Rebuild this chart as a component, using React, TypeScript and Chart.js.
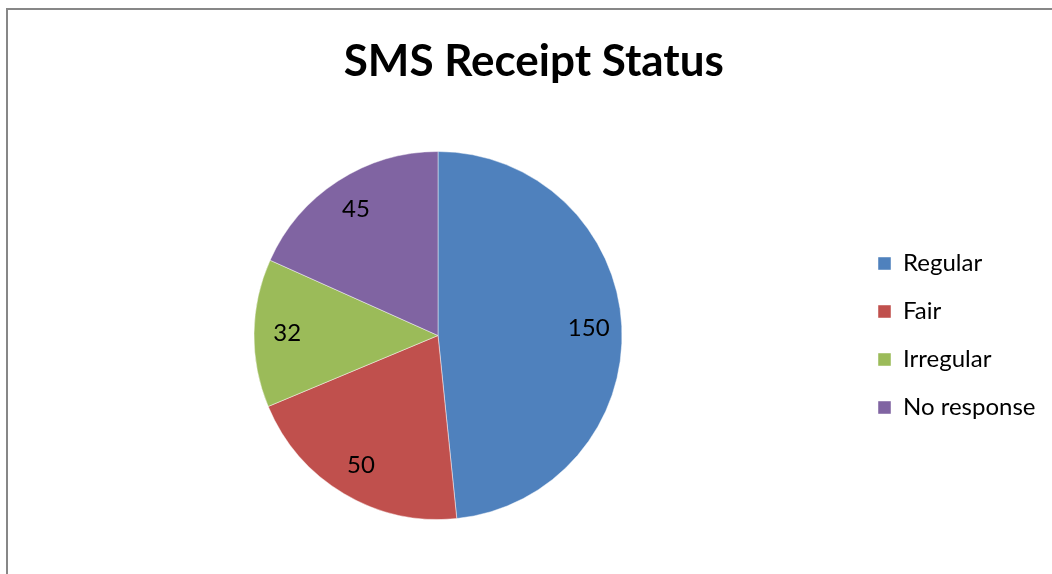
import React, { useEffect, useRef } from "react";
import { Chart, registerables } from "chart.js";

Chart.register(...registerables);

const categories = ["Regular", "Fair", "Irregular", "No response"];
// slice sizes as drawn in the picture
const sliceValues = [119, 50, 32, 45];
// numbers printed on the slices
const sliceLabels = ["150", "50", "32", "45"];
const colors = ["#4F81BD", "#C0504D", "#9BBB59", "#8064A2"];
const titleText = "SMS Receipt Status";

const FONT = "Lato, 'Open Sans', sans-serif";
const LEGEND_SIZE = 24;
const LABEL_SIZE = 24;
const TITLE_SIZE = 44;

const labelPlugin = {
  id: "sliceLabels",
  afterDatasetsDraw(chart: any) {
    const ctx = chart.ctx;
    const meta = chart.getDatasetMeta(0);
    ctx.save();
    ctx.font = `${LABEL_SIZE}px ${FONT}`;
    ctx.fillStyle = "#000";
    ctx.textAlign = "center";
    ctx.textBaseline = "middle";
    meta.data.forEach((arc: any, i: number) => {
      const p = arc.getProps(["x", "y", "startAngle", "endAngle", "outerRadius"], true);
      const mid = (p.startAngle + p.endAngle) / 2;
      const r = p.outerRadius * 0.82;
      ctx.fillText(sliceLabels[i], p.x + Math.cos(mid) * r, p.y + Math.sin(mid) * r);
    });
    ctx.restore();
  },
};

export default function App() {
  const ref = useRef<HTMLCanvasElement>(null);
  useEffect(() => {
    if (!ref.current) return;
    const m = document.createElement("canvas").getContext("2d")!;
    m.font = `${LEGEND_SIZE}px ${FONT}`;
    const maxText = Math.max(...categories.map((c) => m.measureText(c).width));
    const boxW = 13;
    const P = 48 - LEGEND_SIZE;
    const itemW = boxW + LEGEND_SIZE / 2 + maxText;
    const Rp = Math.max(0, 164 - itemW);
    const legendLeft = 1052 - Rp - P - itemW - 10;
    const Lp = 876 - legendLeft;

    const chart = new Chart(ref.current, {
      type: "pie",
      data: {
        labels: categories,
        datasets: [
          {
            data: sliceValues,
            backgroundColor: colors,
            borderColor: "rgba(255,255,255,0.45)",
            borderWidth: 1,
          },
        ],
      },
      options: {
        animation: false,
        responsive: false,
        maintainAspectRatio: false,
        layout: { padding: { left: Lp, right: Rp, top: 0, bottom: 54 } },
        plugins: {
          tooltip: { enabled: false },
          title: {
            display: true,
            text: titleText,
            color: "#000",
            font: { family: FONT, size: TITLE_SIZE, weight: "bold" },
            padding: { top: 35, bottom: 151 - 35 - TITLE_SIZE * 1.2 },
          },
          legend: {
            position: "right",
            fullSize: false,
            labels: {
              color: "#000",
              boxWidth: boxW,
              boxHeight: 13,
              padding: P,
              font: { family: FONT, size: LEGEND_SIZE },
            },
          },
        },
      },
      plugins: [labelPlugin],
    });
    return () => chart.destroy();
  }, []);

  return (
    <div style={{ position: "fixed", left: 0, top: 0, width: 1052, height: 574, background: "#fff", overflow: "hidden" }}>
      <div
        style={{
          position: "absolute",
          left: 6,
          top: 8,
          width: 1100,
          height: 600,
          borderTop: "2px solid #878787",
          borderLeft: "2px solid #878787",
        }}
      />
      <canvas ref={ref} width={1052} height={574} style={{ position: "absolute", left: 0, top: 0, width: 1052, height: 574 }} />
    </div>
  );
}
